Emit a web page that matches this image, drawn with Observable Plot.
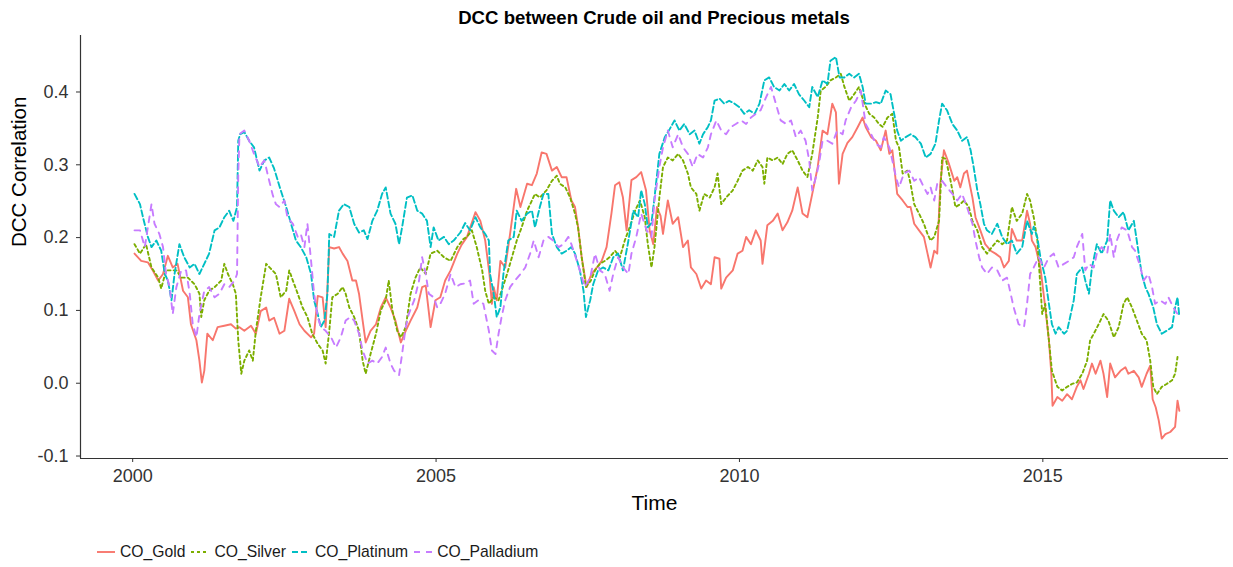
<!DOCTYPE html>
<html><head><meta charset="utf-8">
<script src="https://cdn.jsdelivr.net/npm/d3@7"></script>
<script src="https://cdn.jsdelivr.net/npm/@observablehq/plot@0.6"></script>
<style>
body{margin:0;background:#fff;font-family:"Liberation Sans",Arial,sans-serif;width:1233px;height:567px;overflow:hidden}
#title{height:30px;box-sizing:border-box;padding:8px 5px 0 80px;text-align:center;font-weight:bold;font-size:18.6px;line-height:20px;color:#000}
#legend{display:flex;align-items:center;margin-top:21px;padding-left:97px;font-size:15.7px;color:#1a1a1a;height:22px}
.item{display:flex;align-items:center;margin-right:6px}
.item svg{margin-right:5px}
</style></head><body>
<div id="title">DCC between Crude oil and Precious metals</div>
<div id="chart"></div>
<div id="legend"></div>
<script>
const seriesNames = ["CO_Gold", "CO_Silver", "CO_Platinum", "CO_Palladium"];
const xTicks = [2000, 2005, 2010, 2015];
const yTicks = [-0.1, 0.0, 0.1, 0.2, 0.3, 0.4];

const gold = [[2000.03,0.178],[2000.14,0.168],[2000.25,0.166],[2000.33,0.155],[2000.42,0.141],[2000.50,0.150],[2000.58,0.175],[2000.66,0.159],[2000.74,0.164],[2000.83,0.127],[2000.91,0.118],[2000.96,0.081],[2001.05,0.059],[2001.10,0.031],[2001.14,0.001],[2001.18,0.017],[2001.23,0.068],[2001.32,0.059],[2001.40,0.077],[2001.51,0.079],[2001.62,0.081],[2001.70,0.075],[2001.76,0.077],[2001.84,0.072],[2001.95,0.079],[2002.03,0.068],[2002.11,0.099],[2002.20,0.104],[2002.25,0.086],[2002.33,0.09],[2002.42,0.068],[2002.50,0.072],[2002.58,0.116],[2002.66,0.10],[2002.75,0.081],[2002.83,0.072],[2002.94,0.063],[2002.99,0.068],[2003.05,0.12],[2003.13,0.118],[2003.18,0.077],[2003.24,0.187],[2003.32,0.185],[2003.40,0.187],[2003.46,0.178],[2003.54,0.168],[2003.62,0.141],[2003.68,0.141],[2003.73,0.123],[2003.79,0.086],[2003.84,0.056],[2003.92,0.072],[2004.01,0.081],[2004.09,0.104],[2004.17,0.118],[2004.25,0.104],[2004.33,0.086],[2004.42,0.056],[2004.50,0.072],[2004.58,0.086],[2004.69,0.104],[2004.77,0.132],[2004.83,0.134],[2004.91,0.077],[2004.99,0.114],[2005.07,0.118],[2005.15,0.141],[2005.24,0.155],[2005.35,0.178],[2005.42,0.19],[2005.51,0.201],[2005.65,0.235],[2005.73,0.223],[2005.81,0.196],[2005.88,0.150],[2005.92,0.109],[2005.95,0.132],[2006.00,0.114],[2006.06,0.168],[2006.14,0.159],[2006.22,0.205],[2006.32,0.267],[2006.39,0.242],[2006.50,0.274],[2006.58,0.272],[2006.66,0.288],[2006.74,0.317],[2006.82,0.315],[2006.91,0.292],[2006.99,0.297],[2007.07,0.283],[2007.15,0.283],[2007.23,0.251],[2007.29,0.242],[2007.34,0.215],[2007.40,0.173],[2007.48,0.132],[2007.56,0.150],[2007.65,0.159],[2007.73,0.168],[2007.81,0.187],[2007.89,0.233],[2007.95,0.272],[2008.02,0.276],[2008.08,0.255],[2008.14,0.210],[2008.22,0.279],[2008.30,0.283],[2008.38,0.290],[2008.46,0.265],[2008.52,0.21],[2008.58,0.191],[2008.64,0.242],[2008.70,0.23],[2008.74,0.205],[2008.82,0.251],[2008.90,0.219],[2008.99,0.228],[2009.07,0.187],[2009.15,0.196],[2009.20,0.159],[2009.29,0.150],[2009.37,0.130],[2009.45,0.141],[2009.53,0.136],[2009.59,0.173],[2009.67,0.171],[2009.70,0.130],[2009.78,0.145],[2009.89,0.155],[2009.97,0.178],[2010.05,0.182],[2010.11,0.201],[2010.19,0.191],[2010.27,0.210],[2010.35,0.196],[2010.38,0.164],[2010.46,0.217],[2010.55,0.223],[2010.63,0.233],[2010.71,0.210],[2010.79,0.221],[2010.87,0.237],[2010.96,0.269],[2011.04,0.233],[2011.12,0.228],[2011.20,0.260],[2011.29,0.297],[2011.37,0.347],[2011.45,0.342],[2011.53,0.384],[2011.59,0.372],[2011.64,0.274],[2011.70,0.315],[2011.78,0.33],[2011.86,0.338],[2011.95,0.352],[2012.03,0.365],[2012.08,0.352],[2012.17,0.338],[2012.25,0.333],[2012.33,0.320],[2012.41,0.347],[2012.47,0.315],[2012.52,0.320],[2012.60,0.260],[2012.69,0.251],[2012.77,0.242],[2012.82,0.242],[2012.88,0.219],[2012.96,0.210],[2013.04,0.201],[2013.10,0.178],[2013.15,0.159],[2013.21,0.182],[2013.26,0.178],[2013.31,0.274],[2013.37,0.320],[2013.45,0.302],[2013.54,0.278],[2013.59,0.283],[2013.64,0.269],[2013.70,0.288],[2013.75,0.292],[2013.84,0.255],[2013.89,0.228],[2013.97,0.210],[2014.05,0.191],[2014.14,0.182],[2014.22,0.178],[2014.30,0.173],[2014.36,0.159],[2014.44,0.168],[2014.49,0.212],[2014.57,0.196],[2014.66,0.196],[2014.74,0.237],[2014.79,0.219],[2014.82,0.196],[2014.88,0.187],[2014.96,0.159],[2015.04,0.104],[2015.10,0.059],[2015.14,0.013],[2015.16,-0.031],[2015.24,-0.019],[2015.32,-0.024],[2015.40,-0.015],[2015.48,-0.022],[2015.56,-0.005],[2015.62,0.004],[2015.67,-0.008],[2015.76,0.013],[2015.81,0.027],[2015.87,0.013],[2015.95,0.031],[2016.00,0.013],[2016.06,-0.019],[2016.11,0.027],[2016.19,0.008],[2016.28,0.017],[2016.36,0.022],[2016.41,0.013],[2016.50,0.017],[2016.58,0.008],[2016.63,-0.005],[2016.71,0.013],[2016.77,0.024],[2016.81,-0.022],[2016.86,-0.033],[2016.91,-0.051],[2016.96,-0.076],[2017.02,-0.070],[2017.10,-0.067],[2017.18,-0.060],[2017.22,-0.024],[2017.25,-0.038]];

const silver = [[2000.03,0.191],[2000.12,0.178],[2000.22,0.191],[2000.31,0.159],[2000.42,0.145],[2000.47,0.130],[2000.55,0.155],[2000.64,0.155],[2000.72,0.155],[2000.80,0.145],[2000.91,0.145],[2001.02,0.136],[2001.10,0.123],[2001.13,0.091],[2001.18,0.114],[2001.26,0.127],[2001.35,0.132],[2001.46,0.141],[2001.51,0.164],[2001.57,0.150],[2001.65,0.136],[2001.70,0.123],[2001.74,0.059],[2001.79,0.013],[2001.84,0.031],[2001.92,0.045],[2001.98,0.031],[2002.03,0.072],[2002.11,0.118],[2002.20,0.164],[2002.28,0.157],[2002.36,0.15],[2002.44,0.118],[2002.53,0.127],[2002.58,0.155],[2002.64,0.141],[2002.72,0.123],[2002.80,0.104],[2002.88,0.091],[2002.96,0.068],[2003.05,0.054],[2003.13,0.045],[2003.18,0.027],[2003.24,0.072],[2003.29,0.118],[2003.38,0.123],[2003.46,0.132],[2003.51,0.123],[2003.57,0.104],[2003.65,0.091],[2003.73,0.072],[2003.79,0.031],[2003.84,0.013],[2003.92,0.040],[2004.01,0.068],[2004.09,0.10],[2004.17,0.114],[2004.22,0.141],[2004.28,0.10],[2004.36,0.072],[2004.42,0.063],[2004.50,0.077],[2004.58,0.123],[2004.66,0.145],[2004.74,0.159],[2004.83,0.150],[2004.91,0.178],[2005.02,0.182],[2005.13,0.173],[2005.24,0.168],[2005.35,0.187],[2005.45,0.198],[2005.51,0.201],[2005.59,0.210],[2005.67,0.187],[2005.76,0.155],[2005.81,0.127],[2005.87,0.109],[2005.95,0.118],[2006.03,0.114],[2006.08,0.127],[2006.17,0.150],[2006.25,0.173],[2006.33,0.196],[2006.41,0.214],[2006.50,0.237],[2006.58,0.251],[2006.63,0.260],[2006.71,0.255],[2006.82,0.265],[2006.91,0.278],[2006.99,0.285],[2007.04,0.274],[2007.13,0.269],[2007.21,0.255],[2007.29,0.233],[2007.34,0.214],[2007.40,0.173],[2007.47,0.132],[2007.55,0.141],[2007.62,0.155],[2007.70,0.164],[2007.78,0.168],[2007.86,0.173],[2007.95,0.182],[2008.03,0.173],[2008.11,0.196],[2008.19,0.214],[2008.28,0.237],[2008.36,0.251],[2008.44,0.228],[2008.49,0.191],[2008.55,0.159],[2008.60,0.187],[2008.68,0.255],[2008.74,0.297],[2008.82,0.310],[2008.90,0.306],[2008.99,0.315],[2009.07,0.306],[2009.15,0.288],[2009.20,0.269],[2009.29,0.260],[2009.34,0.237],[2009.42,0.260],[2009.51,0.255],[2009.59,0.269],[2009.64,0.288],[2009.70,0.246],[2009.78,0.255],[2009.89,0.265],[2009.97,0.278],[2010.05,0.292],[2010.14,0.297],[2010.22,0.292],[2010.30,0.306],[2010.38,0.297],[2010.41,0.274],[2010.46,0.310],[2010.55,0.306],[2010.63,0.310],[2010.71,0.301],[2010.79,0.315],[2010.87,0.320],[2010.96,0.306],[2011.04,0.292],[2011.12,0.283],[2011.20,0.315],[2011.29,0.365],[2011.34,0.402],[2011.42,0.407],[2011.50,0.416],[2011.59,0.420],[2011.67,0.425],[2011.73,0.407],[2011.81,0.388],[2011.89,0.397],[2011.97,0.407],[2012.06,0.384],[2012.14,0.370],[2012.22,0.365],[2012.30,0.356],[2012.36,0.352],[2012.44,0.365],[2012.52,0.370],[2012.58,0.333],[2012.63,0.324],[2012.69,0.288],[2012.77,0.292],[2012.82,0.274],[2012.88,0.246],[2012.96,0.233],[2013.04,0.219],[2013.10,0.205],[2013.15,0.196],[2013.21,0.201],[2013.29,0.223],[2013.34,0.310],[2013.40,0.308],[2013.48,0.278],[2013.56,0.242],[2013.64,0.246],[2013.70,0.251],[2013.78,0.242],[2013.84,0.223],[2013.92,0.210],[2014.00,0.187],[2014.08,0.178],[2014.16,0.187],[2014.25,0.196],[2014.33,0.191],[2014.41,0.196],[2014.49,0.242],[2014.57,0.223],[2014.66,0.233],[2014.74,0.260],[2014.79,0.251],[2014.85,0.228],[2014.91,0.196],[2014.99,0.095],[2015.04,0.109],[2015.10,0.059],[2015.15,0.017],[2015.24,-0.005],[2015.32,-0.010],[2015.40,-0.005],[2015.48,-0.001],[2015.56,0.001],[2015.65,0.013],[2015.73,0.031],[2015.78,0.059],[2015.84,0.068],[2015.92,0.081],[2016.00,0.095],[2016.08,0.086],[2016.17,0.063],[2016.25,0.077],[2016.33,0.109],[2016.39,0.118],[2016.47,0.104],[2016.55,0.086],[2016.63,0.068],[2016.71,0.059],[2016.77,0.031],[2016.82,-0.005],[2016.88,-0.015],[2016.96,-0.005],[2017.04,-0.001],[2017.13,0.004],[2017.18,0.013],[2017.22,0.036]];

const platinum = [[2000.03,0.260],[2000.12,0.246],[2000.17,0.228],[2000.25,0.201],[2000.31,0.187],[2000.39,0.196],[2000.47,0.182],[2000.53,0.150],[2000.58,0.141],[2000.64,0.114],[2000.69,0.150],[2000.77,0.191],[2000.85,0.173],[2000.94,0.159],[2001.02,0.164],[2001.10,0.150],[2001.18,0.164],[2001.26,0.178],[2001.35,0.210],[2001.43,0.214],[2001.51,0.228],[2001.59,0.237],[2001.66,0.223],[2001.72,0.242],[2001.74,0.333],[2001.77,0.342],[2001.84,0.345],[2001.92,0.333],[2002.00,0.324],[2002.09,0.292],[2002.17,0.306],[2002.25,0.310],[2002.33,0.295],[2002.44,0.265],[2002.53,0.242],[2002.61,0.219],[2002.69,0.196],[2002.77,0.187],[2002.86,0.173],[2002.94,0.150],[2002.99,0.114],[2003.05,0.095],[2003.10,0.077],[2003.16,0.086],[2003.21,0.123],[2003.24,0.205],[2003.32,0.201],[2003.40,0.237],[2003.48,0.246],[2003.57,0.242],[2003.65,0.219],[2003.73,0.207],[2003.81,0.210],[2003.87,0.198],[2003.95,0.223],[2004.03,0.237],[2004.11,0.260],[2004.17,0.269],[2004.25,0.233],[2004.33,0.219],[2004.39,0.191],[2004.44,0.214],[2004.52,0.255],[2004.61,0.258],[2004.69,0.237],[2004.77,0.233],[2004.85,0.223],[2004.91,0.187],[2004.96,0.214],[2005.04,0.196],[2005.13,0.201],[2005.21,0.191],[2005.29,0.196],[2005.40,0.207],[2005.48,0.220],[2005.56,0.21],[2005.65,0.228],[2005.73,0.214],[2005.81,0.205],[2005.87,0.196],[2005.89,0.150],[2005.95,0.123],[2006.00,0.091],[2006.06,0.104],[2006.11,0.150],[2006.19,0.196],[2006.28,0.201],[2006.33,0.237],[2006.41,0.223],[2006.50,0.233],[2006.58,0.237],[2006.63,0.214],[2006.71,0.242],[2006.77,0.260],[2006.85,0.260],[2006.91,0.205],[2006.99,0.187],[2007.07,0.178],[2007.15,0.182],[2007.23,0.187],[2007.29,0.178],[2007.37,0.155],[2007.43,0.127],[2007.47,0.091],[2007.54,0.114],[2007.59,0.136],[2007.67,0.155],[2007.75,0.159],[2007.84,0.155],[2007.92,0.173],[2008.00,0.178],[2008.08,0.155],[2008.17,0.196],[2008.25,0.237],[2008.33,0.228],[2008.38,0.265],[2008.44,0.246],[2008.49,0.214],[2008.55,0.22],[2008.60,0.255],[2008.68,0.315],[2008.77,0.338],[2008.85,0.349],[2008.93,0.361],[2009.01,0.347],[2009.09,0.356],[2009.18,0.342],[2009.26,0.347],[2009.34,0.329],[2009.40,0.342],[2009.48,0.352],[2009.53,0.361],[2009.59,0.388],[2009.67,0.391],[2009.75,0.384],[2009.83,0.388],[2009.92,0.384],[2010.00,0.379],[2010.08,0.370],[2010.16,0.375],[2010.25,0.370],[2010.33,0.384],[2010.41,0.416],[2010.49,0.420],[2010.57,0.407],[2010.66,0.402],[2010.74,0.411],[2010.82,0.402],[2010.90,0.411],[2010.98,0.397],[2011.07,0.388],[2011.15,0.379],[2011.20,0.407],[2011.29,0.393],[2011.37,0.416],[2011.45,0.411],[2011.50,0.443],[2011.59,0.448],[2011.65,0.42],[2011.73,0.420],[2011.81,0.425],[2011.89,0.420],[2011.97,0.425],[2012.03,0.407],[2012.08,0.384],[2012.17,0.384],[2012.25,0.386],[2012.33,0.384],[2012.41,0.402],[2012.49,0.397],[2012.55,0.370],[2012.60,0.347],[2012.66,0.333],[2012.74,0.338],[2012.82,0.342],[2012.90,0.338],[2012.99,0.329],[2013.07,0.310],[2013.15,0.315],[2013.23,0.329],[2013.29,0.361],[2013.34,0.384],[2013.42,0.375],[2013.51,0.356],[2013.59,0.347],[2013.67,0.333],[2013.75,0.338],[2013.81,0.320],[2013.86,0.297],[2013.92,0.265],[2013.97,0.246],[2014.03,0.219],[2014.08,0.210],[2014.16,0.205],[2014.25,0.219],[2014.33,0.201],[2014.41,0.191],[2014.49,0.196],[2014.57,0.178],[2014.66,0.187],[2014.74,0.223],[2014.82,0.205],[2014.85,0.215],[2014.91,0.200],[2014.96,0.173],[2015.04,0.145],[2015.10,0.109],[2015.15,0.081],[2015.21,0.068],[2015.26,0.077],[2015.35,0.068],[2015.40,0.072],[2015.45,0.091],[2015.51,0.114],[2015.56,0.150],[2015.65,0.159],[2015.70,0.141],[2015.76,0.123],[2015.81,0.159],[2015.89,0.191],[2015.97,0.178],[2016.06,0.196],[2016.11,0.251],[2016.17,0.237],[2016.25,0.228],[2016.33,0.235],[2016.41,0.210],[2016.50,0.223],[2016.58,0.178],[2016.63,0.150],[2016.69,0.132],[2016.74,0.123],[2016.82,0.104],[2016.88,0.081],[2016.96,0.068],[2017.04,0.072],[2017.13,0.077],[2017.18,0.104],[2017.22,0.118],[2017.25,0.091]];

const palladium = [[2000.03,0.210],[2000.12,0.210],[2000.20,0.187],[2000.25,0.214],[2000.31,0.246],[2000.36,0.219],[2000.44,0.205],[2000.50,0.187],[2000.55,0.150],[2000.61,0.132],[2000.66,0.095],[2000.72,0.132],[2000.80,0.155],[2000.88,0.155],[2000.94,0.123],[2000.99,0.081],[2001.05,0.063],[2001.10,0.095],[2001.18,0.127],[2001.26,0.132],[2001.35,0.118],[2001.43,0.123],[2001.51,0.136],[2001.59,0.132],[2001.68,0.141],[2001.72,0.150],[2001.74,0.288],[2001.76,0.342],[2001.84,0.347],[2001.92,0.333],[2002.00,0.315],[2002.09,0.297],[2002.17,0.306],[2002.25,0.278],[2002.31,0.258],[2002.36,0.246],[2002.42,0.242],[2002.50,0.251],[2002.55,0.228],[2002.64,0.219],[2002.72,0.201],[2002.77,0.205],[2002.83,0.187],[2002.88,0.219],[2002.94,0.168],[2002.99,0.123],[2003.05,0.091],[2003.10,0.077],[2003.18,0.072],[2003.27,0.063],[2003.35,0.049],[2003.43,0.063],[2003.51,0.086],[2003.59,0.091],[2003.65,0.086],[2003.73,0.068],[2003.79,0.045],[2003.87,0.027],[2003.95,0.031],[2004.03,0.027],[2004.11,0.036],[2004.17,0.049],[2004.25,0.027],[2004.31,0.017],[2004.39,0.011],[2004.44,0.040],[2004.50,0.077],[2004.55,0.095],[2004.64,0.114],[2004.72,0.141],[2004.77,0.173],[2004.83,0.150],[2004.88,0.123],[2004.96,0.118],[2005.02,0.104],[2005.07,0.109],[2005.15,0.123],[2005.24,0.150],[2005.32,0.132],[2005.40,0.136],[2005.48,0.137],[2005.56,0.141],[2005.62,0.109],[2005.70,0.114],[2005.78,0.109],[2005.87,0.072],[2005.92,0.045],[2005.98,0.040],[2006.03,0.068],[2006.08,0.091],[2006.14,0.114],[2006.22,0.132],[2006.30,0.141],[2006.39,0.150],[2006.47,0.159],[2006.55,0.178],[2006.61,0.196],[2006.69,0.173],[2006.77,0.196],[2006.85,0.201],[2006.93,0.196],[2007.02,0.187],[2007.10,0.191],[2007.18,0.201],[2007.23,0.191],[2007.32,0.168],[2007.37,0.155],[2007.45,0.132],[2007.54,0.145],[2007.62,0.178],[2007.70,0.155],[2007.78,0.150],[2007.86,0.127],[2007.92,0.150],[2008.00,0.173],[2008.08,0.159],[2008.17,0.150],[2008.22,0.178],[2008.30,0.201],[2008.38,0.233],[2008.47,0.210],[2008.55,0.201],[2008.60,0.251],[2008.68,0.297],[2008.74,0.324],[2008.82,0.347],[2008.90,0.324],[2008.99,0.342],[2009.07,0.324],[2009.15,0.315],[2009.23,0.297],[2009.31,0.315],[2009.40,0.310],[2009.48,0.324],[2009.53,0.342],[2009.62,0.361],[2009.70,0.347],[2009.78,0.342],[2009.86,0.352],[2009.94,0.356],[2010.03,0.361],[2010.11,0.356],[2010.19,0.365],[2010.27,0.370],[2010.35,0.375],[2010.44,0.393],[2010.52,0.407],[2010.60,0.384],[2010.68,0.361],[2010.77,0.356],[2010.85,0.361],[2010.93,0.338],[2011.01,0.347],[2011.09,0.333],[2011.15,0.306],[2011.20,0.265],[2011.26,0.283],[2011.31,0.301],[2011.37,0.333],[2011.45,0.333],[2011.53,0.329],[2011.61,0.347],[2011.70,0.342],[2011.75,0.361],[2011.84,0.379],[2011.92,0.388],[2012.00,0.402],[2012.08,0.356],[2012.17,0.342],[2012.25,0.329],[2012.33,0.324],[2012.38,0.338],[2012.47,0.324],[2012.52,0.306],[2012.58,0.283],[2012.63,0.269],[2012.71,0.288],[2012.80,0.292],[2012.88,0.278],[2012.96,0.283],[2013.04,0.269],[2013.10,0.260],[2013.15,0.269],[2013.21,0.251],[2013.26,0.274],[2013.34,0.278],[2013.42,0.269],[2013.51,0.260],[2013.59,0.251],[2013.67,0.260],[2013.75,0.242],[2013.84,0.219],[2013.89,0.196],[2013.95,0.173],[2014.00,0.159],[2014.08,0.150],[2014.16,0.159],[2014.25,0.155],[2014.33,0.141],[2014.41,0.145],[2014.47,0.123],[2014.52,0.104],[2014.60,0.081],[2014.69,0.077],[2014.74,0.109],[2014.79,0.150],[2014.85,0.159],[2014.93,0.173],[2015.02,0.159],[2015.10,0.173],[2015.18,0.178],[2015.26,0.159],[2015.35,0.164],[2015.43,0.168],[2015.51,0.173],[2015.56,0.187],[2015.65,0.205],[2015.70,0.155],[2015.76,0.164],[2015.84,0.159],[2015.89,0.178],[2015.97,0.187],[2016.06,0.178],[2016.11,0.205],[2016.17,0.173],[2016.22,0.196],[2016.30,0.214],[2016.39,0.210],[2016.47,0.187],[2016.52,0.182],[2016.61,0.159],[2016.66,0.141],[2016.74,0.150],[2016.80,0.132],[2016.85,0.109],[2016.93,0.114],[2017.02,0.109],[2017.07,0.118],[2017.15,0.104],[2017.22,0.095]];

const colors = ["#F8766D", "#7CAE00", "#00BFC4", "#C77CFF"];
const dashes = ["none", "3,3", "6,3", "6,6"];
const seriesData = [gold, silver, platinum, palladium];

const X0 = 1999.14, X1 = 2018.06, Y0 = -0.1034, Y1 = 0.4776;
const axisColor = "#333";

const chart = Plot.plot({
  width: 1233, height: 490,
  marginLeft: 80, marginRight: 5, marginTop: 5, marginBottom: 62,
  style: {fontFamily: "'Liberation Sans', Arial, sans-serif", background: "#fff", overflow: "visible"},
  x: {domain: [X0, X1]},
  y: {domain: [Y0, Y1]},
  marks: [
    ...seriesData.map((data, i) => Plot.line(data, {
      x: d => d[0], y: d => d[1],
      stroke: colors[i], strokeWidth: 1.9, strokeDasharray: dashes[i]
    })),
    Plot.ruleX([X0], {stroke: axisColor, strokeWidth: 1.2}),
    Plot.ruleY([Y0], {stroke: axisColor, strokeWidth: 1.2}),
    Plot.axisX({ticks: xTicks, tickFormat: d3.format("d"), tickSize: 4, tickPadding: 7, fontSize: 18, stroke: axisColor, fill: "#333", label: null}),
    Plot.axisY({ticks: yTicks, tickFormat: d => d.toFixed(1), tickSize: 4, tickPadding: 8, fontSize: 18, stroke: axisColor, fill: "#333", label: null}),
    Plot.text(["Time"], {text: d => d, frameAnchor: "bottom", dy: 51, fontSize: 21, fill: "#000"}),
    Plot.text(["DCC Correlation"], {text: d => d, frameAnchor: "left", dx: -61, rotate: -90, fontSize: 20.5, fill: "#000"})
  ]
});
document.getElementById("chart").appendChild(chart);

const legend = d3.select("#legend");
seriesNames.forEach((name, i) => {
  const item = legend.append("div").attr("class", "item");
  const svg = item.append("svg").attr("width", 18).attr("height", 12);
  svg.append("line").attr("x1", 0).attr("x2", 18).attr("y1", 6).attr("y2", 6)
    .attr("stroke", colors[i]).attr("stroke-width", 1.9)
    .attr("stroke-dasharray", dashes[i]);
  item.append("span").text(name);
});
</script>
</body></html>
